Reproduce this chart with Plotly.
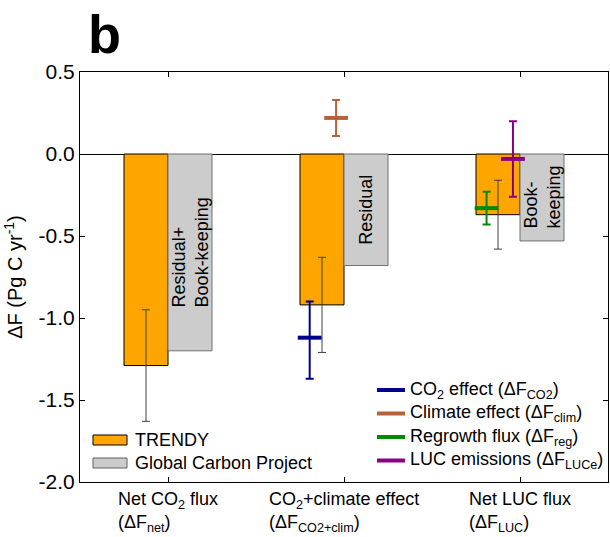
import plotly.graph_objects as go

# ---------------- data ----------------
categories = ["Net CO<sub>2</sub> flux<br>(ΔF<sub>net</sub>)",
              "CO<sub>2</sub>+climate effect<br>(ΔF<sub>CO2+clim</sub>)",
              "Net LUC flux<br>(ΔF<sub>LUC</sub>)"]
trendy = [-1.29, -0.92, -0.37]
trendy_err = [0.34, 0.29, 0.21]
gcp = [-1.20, -0.68, -0.53]
gcp_labels = ["Residual+<br>Book-keeping", "Residual", "Book-<br>keeping"]

comp_names = ["CO<sub>2</sub> effect (ΔF<sub>CO2</sub>)",
              "Climate effect (ΔF<sub>clim</sub>)",
              "Regrowth flux (ΔF<sub>reg</sub>)",
              "LUC emissions (ΔF<sub>LUCe</sub>)"]
comp_cat = [1, 1, 2, 2]
comp_val = [-1.12, 0.22, -0.33, -0.03]
comp_plus = [0.22, 0.11, 0.10, 0.23]
comp_minus = [0.25, 0.11, 0.10, 0.23]
comp_colors = ["#00008F", "#B5623A", "#008A00", "#880088"]

ytick_vals = [-2.0, -1.5, -1.0, -0.5, 0.0, 0.5]
ytick_text = ["-2.0", "-1.5", "-1.0", "-0.5", "0.0", "0.5"]

# ---------------- style ----------------
FONT = "Liberation Sans, Arial, sans-serif"
ORANGE = "#FFA500"
GREY = "#CCCCCC"
W, H = 610, 537
ML, MR, MT, MB = 80, 2, 72, 55
PW, PH = W - ML - MR, H - MT - MB
BAR_W = 0.25
comp_offset = [-0.195, -0.045, -0.19, -0.04]   # horizontal offset within the category


def px_x(p):
    return (p - ML) / PW


def px_y(p):
    return (MT + PH - p) / PH


fig = go.Figure()
fig.add_trace(go.Bar(
    x=[0, 1, 2], y=trendy, name="TRENDY", offsetgroup="a",
    marker=dict(color=ORANGE, line=dict(color="black", width=1)),
    error_y=dict(type="data", array=trendy_err, color="#404040", thickness=1, width=4),
    showlegend=False))
fig.add_trace(go.Bar(
    x=[0, 1, 2], y=gcp, name="Global Carbon Project", offsetgroup="b",
    marker=dict(color=GREY, line=dict(color="#707070", width=1)),
    showlegend=False))

for i in range(len(comp_names)):
    fig.add_trace(go.Scatter(
        x=[comp_cat[i] + comp_offset[i]], y=[comp_val[i]], mode="markers",
        name=comp_names[i],
        marker=dict(symbol="line-ew", size=17, color=comp_colors[i],
                    line=dict(color=comp_colors[i], width=4)),
        error_y=dict(type="data", array=[comp_plus[i]], arrayminus=[comp_minus[i]],
                     color=comp_colors[i], thickness=2, width=4),
        showlegend=False))

annotations = []
# GCP texts inside bars
for i, (v, t) in enumerate(zip(gcp, gcp_labels)):
    annotations.append(dict(x=i + BAR_W / 2, y=v / 2, xref="x", yref="y", text=t,
                            textangle=-90, showarrow=False, align="left",
                            font=dict(family=FONT, size=18, color="black")))
# category labels
for i, c in enumerate(categories):
    annotations.append(dict(x=i, y=-0.012, xref="x", yref="paper", text=c,
                            xanchor="center", yanchor="top", showarrow=False, align="left",
                            font=dict(family=FONT, size=18, color="black")))
# panel letter
annotations.append(dict(x=px_x(86), y=px_y(34), xref="paper", yref="paper", text="<b>b</b>",
                        xanchor="left", yanchor="middle", showarrow=False,
                        font=dict(family=FONT, size=54, color="black")))

shapes = []
# bar legend
bar_leg = [("TRENDY", ORANGE, "black", 440), ("Global Carbon Project", GREY, "#606060", 463)]
for name, fc, lc, yc in bar_leg:
    shapes.append(dict(type="rect", xref="paper", yref="paper",
                       x0=px_x(93), x1=px_x(127), y0=px_y(yc - 5), y1=px_y(yc + 5),
                       fillcolor=fc, line=dict(color=lc, width=1)))
    annotations.append(dict(x=px_x(133), y=px_y(yc), xref="paper", yref="paper", text=name,
                            xanchor="left", yanchor="middle", showarrow=False,
                            font=dict(family=FONT, size=18, color="black")))
# component legend
for i, (name, col) in enumerate(zip(comp_names, comp_colors)):
    yc = 390 + i * 23.5
    shapes.append(dict(type="line", xref="paper", yref="paper",
                       x0=px_x(377), x1=px_x(405), y0=px_y(yc), y1=px_y(yc),
                       line=dict(color=col, width=4)))
    annotations.append(dict(x=px_x(408), y=px_y(yc), xref="paper", yref="paper", text=name,
                            xanchor="left", yanchor="middle", showarrow=False,
                            font=dict(family=FONT, size=18, color="black")))

fig.update_layout(
    width=W, height=H, margin=dict(l=ML, r=MR, t=MT, b=MB),
    paper_bgcolor="white", plot_bgcolor="white",
    barmode="group", bargap=0.5, bargroupgap=0,
    font=dict(family=FONT, size=18, color="black"),
    annotations=annotations, shapes=shapes,
    xaxis=dict(range=[-0.5, 2.5], tickvals=[0, 1, 2], showticklabels=False,
               ticks="inside", ticklen=5, tickcolor="black",
               showline=True, linecolor="black", linewidth=1, mirror="ticks",
               showgrid=False, zeroline=False),
    yaxis=dict(range=[-2.0, 0.5], tickvals=ytick_vals, ticktext=ytick_text,
               ticks="inside", ticklen=5, tickcolor="black",
               showline=True, linecolor="black", linewidth=1, mirror="ticks",
               showgrid=False, zeroline=True, zerolinecolor="black", zerolinewidth=1,
               tickfont=dict(family=FONT, size=21, color="black"),
               title=dict(text="ΔF (Pg C yr<sup>-1</sup>)", standoff=10,
                          font=dict(family=FONT, size=20, color="black"))),
)

fig.write_html("out.html")
